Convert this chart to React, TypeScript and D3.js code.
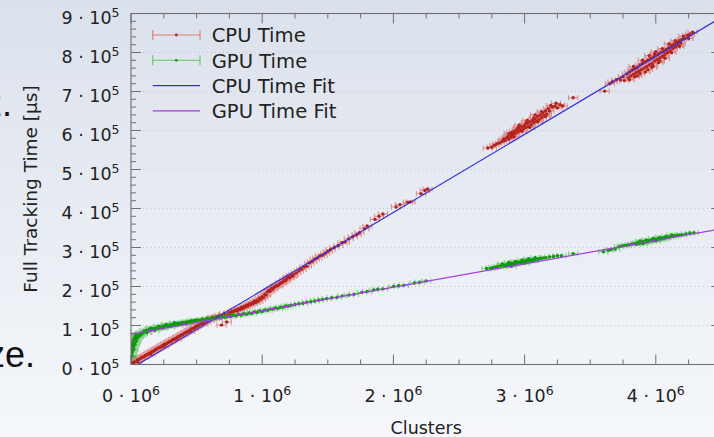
import React from "react";
import * as d3 from "d3";

// clusters in units of 1e6, time in units of 1e5 µs
const cpuPoints: [number, number][] = [
  [0.00,0.02],[0.01,0.05],[0.02,0.04],[0.03,0.08],[0.04,0.09],[0.05,0.12],[0.05,0.07],[0.06,0.13],[0.07,0.15],[0.08,0.18],
  [0.09,0.19],[0.10,0.20],[0.11,0.23],[0.12,0.25],[0.13,0.26],[0.14,0.29],[0.15,0.30],[0.15,0.27],[0.16,0.33],[0.17,0.34],
  [0.18,0.36],[0.19,0.39],[0.20,0.40],[0.21,0.43],[0.22,0.44],[0.23,0.45],[0.24,0.49],[0.25,0.50],[0.25,0.47],[0.26,0.52],
  [0.27,0.53],[0.28,0.56],[0.29,0.58],[0.30,0.59],[0.31,0.61],[0.32,0.64],[0.33,0.65],[0.34,0.66],[0.35,0.69],[0.35,0.66],
  [0.36,0.71],[0.37,0.72],[0.38,0.75],[0.39,0.76],[0.40,0.78],[0.41,0.81],[0.42,0.82],[0.43,0.84],[0.44,0.86],[0.45,0.88],
  [0.45,0.85],[0.46,0.91],[0.47,0.92],[0.48,0.93],[0.49,0.96],[0.50,0.98],[0.51,1.00],[0.52,1.01],[0.53,1.04],[0.54,1.05],
  [0.55,1.07],[0.55,1.04],[0.56,1.09],[0.57,1.10],[0.58,1.13],[0.59,1.15],[0.60,1.14],[0.61,1.18],[0.62,1.17],[0.62,1.21],
  [0.63,1.20],[0.64,1.19],[0.65,1.23],[0.66,1.21],[0.67,1.25],[0.68,1.24],
  [0.69,1.01],[0.70,1.27],[0.71,1.30],[0.72,1.26],[0.73,1.09],[0.74,1.31],[0.75,1.33],[0.76,1.29],[0.77,1.36],[0.78,1.34],
  [0.79,1.38],[0.80,1.40],[0.81,1.37],[0.82,1.43],[0.83,1.41],[0.84,1.46],[0.85,1.43],[0.86,1.49],[0.87,1.47],[0.88,1.52],
  [0.89,1.50],[0.90,1.55],[0.91,1.53],[0.92,1.58],[0.93,1.56],[0.94,1.62],[0.95,1.59],[0.96,1.65],[0.97,1.62],[0.98,1.70],
  [0.99,1.67],[1.00,1.74],[1.01,1.72],[1.02,1.80],[1.03,1.78],[1.04,1.86],[1.05,1.90],[1.06,1.88],[1.07,1.95],[1.08,1.93],
  [1.09,1.98],[1.10,2.00],[1.11,2.03],[1.12,2.02],[1.13,2.06],[1.14,2.09],[1.15,2.10],[1.16,2.12],[1.17,2.17],[1.18,2.15],
  [1.19,2.21],[1.20,2.24],[1.21,2.22],[1.22,2.28],[1.23,2.26],[1.24,2.31],[1.26,2.35],[1.28,2.40],[1.30,2.44],[1.32,2.50],
  [1.34,2.52],[1.36,2.60],[1.38,2.64],[1.40,2.70],[1.42,2.73],[1.44,2.79],[1.46,2.80],[1.48,2.85],[1.50,2.90],
  [1.52,2.95],[1.55,3.00],[1.58,3.05],[1.61,3.12],[1.63,3.14],[1.66,3.22],[1.69,3.28],[1.72,3.33],[1.74,3.38],[1.78,3.48],
  [1.80,3.55],[1.86,3.72],[1.89,3.80],[1.92,3.86],[2.02,4.04],[2.05,4.10],[2.11,4.16],[2.13,4.17],[2.21,4.38],[2.24,4.46],
  [2.26,4.50],
  [2.72,5.55],[2.75,5.57],[2.77,5.62],[2.79,5.66],[2.81,5.68],[2.83,5.72],[2.84,5.78],[2.85,5.74],[2.86,5.80],[2.87,5.84],
  [2.88,5.78],[2.89,5.88],[2.90,5.83],[2.90,5.95],[2.91,5.90],[2.92,5.98],[2.93,5.92],[2.94,6.02],[2.95,5.96],[2.96,6.06],
  [2.97,6.00],[2.98,6.10],[2.99,6.04],[3.00,6.13],[3.01,6.08],[3.02,6.18],[3.03,6.10],[3.04,6.22],[3.05,6.15],[3.06,6.26],
  [3.07,6.20],[3.08,6.30],[3.09,6.24],[3.10,6.36],[3.11,6.28],[3.12,6.40],[3.13,6.33],[3.14,6.45],[3.15,6.38],[3.16,6.50],
  [3.17,6.42],[3.18,6.56],[3.19,6.50],[3.21,6.60],[3.23,6.62],[3.25,6.58],[3.27,6.66],[3.29,6.63],[3.37,6.84],
  [2.88,5.92],[2.92,5.84],[2.95,6.08],[2.98,5.98],[3.01,6.20],[3.04,6.08],[3.07,6.32],[3.10,6.22],[3.13,6.48],[3.16,6.36],
  [3.02,6.26],[2.96,6.14],[3.08,6.40],[3.20,6.64],[3.24,6.70],
  [3.61,7.01],[3.65,7.20],[3.67,7.25],[3.70,7.30],
  [3.73,7.30],[3.75,7.38],[3.76,7.28],[3.78,7.45],[3.79,7.35],[3.80,7.50],[3.81,7.40],[3.82,7.55],[3.83,7.44],[3.84,7.58],
  [3.85,7.48],[3.86,7.62],[3.86,7.40],[3.87,7.52],[3.88,7.68],[3.89,7.56],[3.90,7.72],[3.91,7.60],[3.92,7.76],[3.92,7.50],
  [3.93,7.64],[3.94,7.80],[3.95,7.68],[3.95,7.92],[3.96,7.84],[3.97,7.72],[3.97,7.62],[3.98,7.88],[3.99,7.78],[4.00,7.92],
  [4.01,7.82],[4.02,7.96],[4.02,7.74],[4.03,7.86],[4.04,8.00],[4.05,7.90],[4.05,8.10],[4.06,8.04],[4.07,7.96],[4.07,7.85],
  [4.08,8.08],[4.09,8.00],[4.10,8.12],[4.11,8.04],[4.12,8.18],[4.13,8.10],[4.14,8.22],[4.15,8.14],[4.16,8.26],[4.17,8.18],
  [4.18,8.30],[4.19,8.24],[4.20,8.34],[4.22,8.36],[4.24,8.44],[4.26,8.47],[4.28,8.52],
  [3.80,7.30],[3.84,7.38],[3.88,7.46],[3.90,7.80],[3.94,7.56],[3.98,7.66],[4.00,8.02],[4.03,7.78],[4.06,7.92],[4.10,8.22],
  [4.12,8.00],[4.15,8.30],[4.18,8.16],[4.21,8.42],[4.25,8.36],[3.83,7.64],[3.99,7.96],
];

const gpuPoints: [number, number][] = [
  [0.00,0.15],[0.00,0.20],[0.00,0.25],[0.00,0.30],[0.00,0.35],[0.00,0.40],[0.00,0.45],[0.00,0.50],[0.01,0.22],[0.01,0.30],
  [0.01,0.35],[0.01,0.40],[0.01,0.45],[0.01,0.50],[0.01,0.55],[0.02,0.38],[0.02,0.45],[0.02,0.50],[0.02,0.55],[0.02,0.60],
  [0.02,0.65],[0.03,0.52],[0.03,0.58],[0.03,0.62],[0.03,0.68],[0.03,0.72],[0.04,0.60],[0.04,0.66],[0.04,0.70],[0.04,0.76],
  [0.05,0.68],[0.05,0.73],[0.06,0.72],[0.06,0.76],[0.07,0.75],[0.07,0.79],[0.08,0.78],[0.08,0.81],[0.09,0.80],
  [0.10,0.86],[0.11,0.84],[0.12,0.88],[0.12,0.82],[0.13,0.86],[0.14,0.90],[0.15,0.88],[0.15,0.94],[0.16,0.92],[0.17,0.90],
  [0.18,0.93],[0.18,0.88],[0.19,0.91],[0.20,0.95],[0.21,0.93],[0.21,0.98],[0.22,0.96],[0.23,0.95],[0.24,0.98],[0.24,0.93],
  [0.25,0.96],[0.26,1.00],[0.27,0.98],[0.27,1.03],[0.28,1.01],[0.29,0.99],[0.30,1.02],[0.30,0.97],[0.31,1.00],[0.32,1.03],
  [0.33,1.02],[0.33,1.07],[0.34,1.05],[0.35,1.03],[0.36,1.06],[0.36,1.01],[0.37,1.04],[0.38,1.07],[0.39,1.05],[0.40,1.08],
  [0.41,1.06],[0.42,1.09],[0.42,1.04],[0.43,1.08],[0.44,1.10],[0.45,1.09],[0.46,1.12],[0.47,1.10],[0.48,1.13],[0.49,1.11],
  [0.50,1.14],[0.52,1.13],[0.54,1.16],[0.56,1.15],[0.58,1.18],[0.60,1.17],[0.62,1.19],[0.64,1.18],[0.66,1.21],[0.68,1.20],
  [0.70,1.22],[0.72,1.21],[0.74,1.24],[0.76,1.23],[0.78,1.26],[0.80,1.25],[0.82,1.28],[0.84,1.27],[0.86,1.30],[0.88,1.29],
  [0.90,1.32],[0.92,1.31],[0.94,1.35],[0.96,1.34],[0.98,1.37],[1.00,1.36],[1.02,1.40],[1.04,1.39],[1.06,1.42],[1.08,1.42],
  [1.10,1.45],[1.12,1.44],[1.14,1.47],[1.16,1.47],[1.18,1.50],[1.20,1.50],[1.22,1.52],[1.25,1.54],[1.28,1.56],[1.31,1.57],
  [1.34,1.60],[1.37,1.61],[1.40,1.63],[1.43,1.65],[1.46,1.67],[1.49,1.69],
  [1.53,1.71],[1.57,1.72],[1.61,1.76],[1.66,1.78],[1.70,1.80],[1.76,1.85],[1.80,1.87],[1.85,1.91],[1.88,1.93],[1.92,1.94],
  [2.00,2.00],[2.04,2.02],[2.08,2.03],[2.16,2.09],[2.20,2.11],[2.25,2.14],
  [2.71,2.46],[2.74,2.47],[2.76,2.49],[2.78,2.50],[2.80,2.52],[2.82,2.53],[2.84,2.55],[2.85,2.52],[2.86,2.56],[2.87,2.54],
  [2.88,2.58],[2.89,2.55],[2.90,2.59],[2.91,2.57],[2.92,2.60],[2.93,2.58],[2.94,2.62],[2.95,2.60],[2.96,2.63],[2.97,2.61],
  [2.98,2.64],[2.99,2.62],[3.00,2.66],[3.01,2.64],[3.02,2.67],[3.03,2.65],[3.04,2.68],[3.05,2.66],[3.06,2.69],[3.07,2.67],
  [3.08,2.70],[3.10,2.70],[3.12,2.72],[3.14,2.73],[3.16,2.74],[3.19,2.76],[3.22,2.77],[3.25,2.79],[3.28,2.79],[3.37,2.84],
  [2.83,2.58],[2.88,2.62],[2.93,2.64],[2.98,2.68],[3.03,2.71],[3.08,2.74],[2.90,2.52],[3.00,2.60],
  [3.60,2.89],[3.64,2.93],[3.66,2.95],[3.69,2.96],
  [3.72,3.02],[3.74,3.04],[3.76,3.05],[3.78,3.06],[3.80,3.07],[3.82,3.09],[3.84,3.10],[3.85,3.08],[3.86,3.12],[3.87,3.10],
  [3.88,3.13],[3.89,3.12],[3.90,3.15],[3.91,3.13],[3.92,3.16],[3.93,3.14],[3.94,3.17],[3.95,3.16],[3.96,3.19],[3.97,3.17],
  [3.98,3.20],[3.99,3.18],[4.00,3.21],[4.01,3.20],[4.02,3.23],[4.03,3.21],[4.04,3.24],[4.05,3.22],[4.06,3.25],[4.07,3.24],
  [4.08,3.26],[4.10,3.27],[4.12,3.28],[4.14,3.30],[4.16,3.31],[4.18,3.32],[4.20,3.33],[4.23,3.35],[4.26,3.37],[4.29,3.38],
  [3.88,3.17],[3.93,3.19],[3.98,3.23],[4.03,3.26],[4.08,3.29],[3.90,3.10],[4.00,3.17],[4.12,3.32],
];

// horizontal error (clusters, 1e6)
const xError = 0.035;

// fitted lines, endpoints
const cpuFit: [number, number][] = [[0, -0.1], [4.5, 8.9]];
const gpuFit: [number, number][] = [[0, 0.78], [4.5, 3.48]];

const xTickLabels = ["0", "1", "2", "3", "4"];
const yTickLabels = ["0", "1", "2", "3", "4", "5", "6", "7", "8", "9"];
const xExponent = "6";
const yExponent = "5";

const legendItems = [
  { label: "CPU Time", kind: "err", color: "#b3221b", bar: "#e07a7a" },
  { label: "GPU Time", kind: "err", color: "#109810", bar: "#5ccc5c" },
  { label: "CPU Time Fit", kind: "line", color: "#3030dd" },
  { label: "GPU Time Fit", kind: "line", color: "#a83be3" },
];

const font = "'DejaVu Sans', sans-serif";

export default function App() {
  const x = d3.scaleLinear().domain([0, 4.5]).range([131, 721.4]);
  const y = d3.scaleLinear().domain([0, 9]).range([364.5, 13.5]);
  const [x0, x1] = x.range();
  const [y0, y1] = y.range();

  const xMinor = d3.range(0, 4.5001, 0.25).filter(v => Math.abs(v - Math.round(v)) > 1e-6);
  const yMinor = d3.range(0, 9.0001, 0.2).filter(v => Math.abs(v - Math.round(v)) > 1e-6);
  const xMajor = xTickLabels.map(Number);
  const yMajor = yTickLabels.map(Number);

  const line = d3.line<[number, number]>().x(d => x(d[0])).y(d => y(d[1]));

  const errPath = (pts: [number, number][]) =>
    pts.map(([cx, ct]) => {
      const a = x(cx - xError), b = x(cx + xError), py = y(ct);
      return `M${a},${py}H${b}M${a},${py - 2.6}V${py + 2.6}M${b},${py - 2.6}V${py + 2.6}`;
    }).join("");

  const axisColor = "#6f6f6f";
  const slideFont = "'Liberation Sans', Arial, sans-serif";

  return (
    <svg width={714} height={437} style={{ position: "absolute", left: 0, top: 0 }} fontFamily={font}>
      <defs>
        <linearGradient id="bg" x1="0" y1="0" x2="0" y2="1">
          <stop offset="0%" stopColor="#dbe1ec" />
          <stop offset="100%" stopColor="#f5f7fa" />
        </linearGradient>
        <clipPath id="plot">
          <rect x={x0} y={y1} width={x1 - x0} height={y0 - y1} />
        </clipPath>
      </defs>
      <rect width={714} height={437} fill="url(#bg)" />

      {/* slide text behind the figure */}
      <text x={12} y={116} textAnchor="end" fontFamily={slideFont} fontSize={36} fill="#111">z.</text>
      <text x={35} y={367} textAnchor="end" fontFamily={slideFont} fontSize={36} fill="#111">ze.</text>

      {/* grid */}
      {yMajor.filter(v => v > 0 && v < 9).map(v => (
        <line key={"g" + v} x1={x0} x2={x1} y1={y(v)} y2={y(v)} stroke="#c3c7ce" strokeWidth={1} strokeDasharray="1,3" />
      ))}

      <g clipPath="url(#plot)">
        <path d={errPath(cpuPoints)} stroke="#d65454" strokeOpacity={0.6} strokeWidth={1.1} fill="none" />
        {cpuPoints.map((p, i) => (
          <circle key={"c" + i} cx={x(p[0])} cy={y(p[1])} r={1.7} fill="#b3221b" />
        ))}
        <path d={errPath(gpuPoints)} stroke="#3fbf3f" strokeOpacity={0.6} strokeWidth={1.1} fill="none" />
        {gpuPoints.map((p, i) => (
          <circle key={"n" + i} cx={x(p[0])} cy={y(p[1])} r={1.7} fill="#109810" />
        ))}
        <path d={line(cpuFit) || ""} stroke="#3030dd" strokeWidth={1.2} fill="none" />
        <path d={line(gpuFit) || ""} stroke="#a83be3" strokeWidth={1.2} fill="none" />
      </g>

      {/* frame */}
      <rect x={x0} y={y1} width={x1 - x0} height={y0 - y1} fill="none" stroke={axisColor} strokeWidth={1.1} />

      {/* ticks */}
      {xMajor.map(v => (
        <g key={"xt" + v} stroke={axisColor} strokeWidth={1}>
          <line x1={x(v)} x2={x(v)} y1={y0} y2={y0 - 10} />
          <line x1={x(v)} x2={x(v)} y1={y1} y2={y1 + 10} />
        </g>
      ))}
      {xMinor.map(v => (
        <g key={"xm" + v} stroke={axisColor} strokeWidth={1}>
          <line x1={x(v)} x2={x(v)} y1={y0} y2={y0 - 5} />
          <line x1={x(v)} x2={x(v)} y1={y1} y2={y1 + 5} />
        </g>
      ))}
      {yMajor.map(v => (
        <g key={"yt" + v} stroke={axisColor} strokeWidth={1}>
          <line x1={x0} x2={x0 + 10} y1={y(v)} y2={y(v)} />
          <line x1={x1} x2={x1 - 10} y1={y(v)} y2={y(v)} />
        </g>
      ))}
      {yMinor.map(v => (
        <g key={"ym" + v} stroke={axisColor} strokeWidth={1}>
          <line x1={x0} x2={x0 + 5} y1={y(v)} y2={y(v)} />
          <line x1={x1} x2={x1 - 5} y1={y(v)} y2={y(v)} />
        </g>
      ))}

      {/* tick labels */}
      {xTickLabels.map(l => (
        <text key={"xl" + l} x={x(+l)} y={401.5} textAnchor="middle" fontSize={17.5} fill="#222">
          {`${l} · 10`}<tspan dy={-7} fontSize={12.5}>{xExponent}</tspan>
        </text>
      ))}
      {yTickLabels.map(l => (
        <text key={"yl" + l} x={119.5} y={y(+l) + 10.5} textAnchor="end" fontSize={17.5} fill="#222">
          {`${l} · 10`}<tspan dy={-7} fontSize={12.5}>{yExponent}</tspan>
        </text>
      ))}

      {/* axis titles */}
      <text x={(x0 + x1) / 2} y={434} textAnchor="middle" fontSize={17.5} fill="#222">Clusters</text>
      <text transform={`translate(37,189) rotate(-90)`} textAnchor="middle" fontSize={18.5} fill="#222">
        Full Tracking Time [µs]
      </text>

      {/* legend */}
      {legendItems.map((it, i) => {
        const ly = 35 + i * 25.3;
        return (
          <g key={it.label}>
            {it.kind === "err" ? (
              <g>
                <path d={`M152.7,${ly}H200M152.7,${ly - 5}V${ly + 5}M200,${ly - 5}V${ly + 5}`} stroke={it.bar} strokeWidth={1.1} fill="none" />
                <circle cx={176.3} cy={ly} r={1.4} fill={it.color} />
              </g>
            ) : (
              <line x1={152.7} x2={200} y1={ly} y2={ly} stroke={it.color} strokeWidth={1.2} />
            )}
            <text x={211.7} y={ly + 7.3} fontSize={19.6} fill="#222">{it.label}</text>
          </g>
        );
      })}
    </svg>
  );
}
